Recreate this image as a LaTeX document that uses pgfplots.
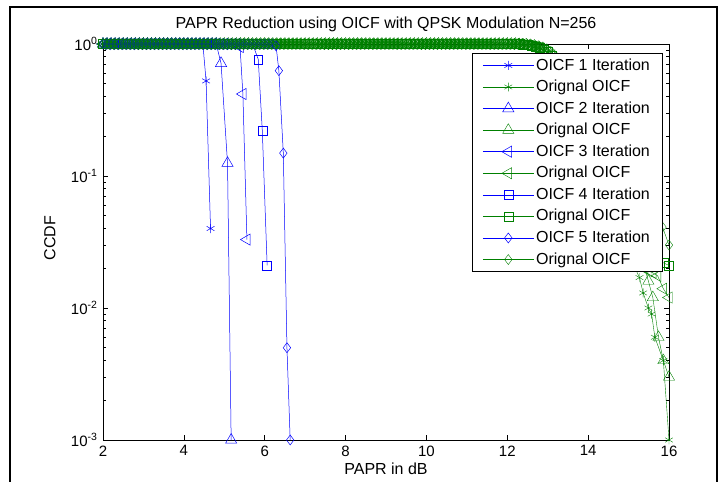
\documentclass[border=0pt]{standalone}
\usepackage{pgfplots}
\pgfplotsset{compat=1.18}
\usepackage{fontspec}
\setmainfont{Liberation Sans}
\definecolor{mblue}{RGB}{0,0,255}
\definecolor{mgreen}{RGB}{0,128,0}
\begin{document}
\fontsize{16bp}{19bp}\selectfont
\begin{tikzpicture}
\useasboundingbox (0bp,0bp) rectangle (727bp,482bp);
\draw[line width=1.2bp] (10bp,-2bp) -- (10bp,475bp) -- (717bp,475bp) -- (717bp,-2bp);
\begin{axis}[
  at={(103bp,42bp)}, anchor=south west,
  scale only axis, width=566bp, height=396bp,
  ymode=log, xmin=2, xmax=16, ymin=1e-3, ymax=1,
  clip=false,
  axis line style={line width=0.8pt},
  every tick/.style={black, line width=0.6pt},
  tick align=inside,
  major tick length=5bp, minor tick length=3bp,
  xtick={2,4,6,8,10,12,14,16},
  ytick={0.001,0.01,0.1,1},
  yticklabels={10\textsuperscript{-3},10\textsuperscript{-2},10\textsuperscript{-1},10\textsuperscript{0}},
  minor ytick={0.002,0.003,0.004,0.005,0.006,0.007,0.008,0.009,0.02,0.03,0.04,0.05,0.06,0.07,0.08,0.09,0.2,0.3,0.4,0.5,0.6,0.7,0.8,0.9},
  /pgf/number format/assume math mode=true,
  tick label style={font=\fontsize{15bp}{18bp}\selectfont},
  label style={font=\fontsize{16bp}{19bp}\selectfont},
  xlabel={PAPR in dB}, ylabel={CCDF},
  xlabel style={at={(axis description cs:0.5,-0.072)}, anchor=center},
  ylabel style={at={(axis description cs:-0.094,0.51)}, anchor=center},
  title={PAPR Reduction using OICF with QPSK Modulation N=256},
  title style={at={(axis description cs:0.5,1.034)}, anchor=center, font=\fontsize{16bp}{19bp}\selectfont},
  legend style={at={(0.988,0.977)}, anchor=north east, draw=black, line width=0.7pt, fill=white,
    font=\fontsize{16bp}{19bp}\selectfont, cells={anchor=west}, row sep=3.6pt, inner xsep=10bp, inner ysep=3bp},
  legend image code/.code={\draw[mark repeat=2,mark phase=2,#1] plot coordinates {(0bp,0bp) (25.5bp,0bp) (51bp,0bp)};},
]
% ---- OICF 1 iteration (blue, asterisk)
\addplot[mblue, line width=0.5pt, mark=asterisk, mark size=4.5pt, mark options={solid}] coordinates {
(2,1)(2.1,1)(2.2,1)(2.3,1)(2.4,1)(2.5,1)(2.6,1)(2.7,1)(2.8,1)(2.9,1)
(3,1)(3.1,1)(3.2,1)(3.3,1)(3.4,1)(3.5,1)(3.6,1)(3.7,1)(3.8,1)(3.9,1)
(4,1)(4.1,1)(4.2,1)(4.3,1)(4.4,1)(4.47,1)(4.55,0.525)(4.66,0.04)};
\addlegendentry{OICF 1 Iteration}
% ---- original (green, asterisk)
\addplot[mgreen, line width=0.4pt, mark=asterisk, mark size=4.5pt, mark options={solid}] coordinates {
(2,1)(2.1,1)(2.2,1)(2.3,1)(2.4,1)(2.5,1)(2.6,1)(2.7,1)(2.8,1)(2.9,1)
(3,1)(3.1,1)(3.2,1)(3.3,1)(3.4,1)(3.5,1)(3.6,1)(3.7,1)(3.8,1)(3.9,1)
(4,1)(4.1,1)(4.2,1)(4.3,1)(4.4,1)(4.5,1)(4.6,1)(4.7,1)(4.8,1)(4.9,1)
(5,1)(5.1,1)(5.2,1)(5.3,1)(5.4,1)(5.5,1)(5.6,1)(5.7,1)(5.8,1)(5.9,1)
(6,1)(6.1,1)(6.2,1)(6.3,1)(6.4,1)(6.5,1)(6.6,1)(6.7,1)(6.8,1)(6.9,1)
(7,1)(7.1,1)(7.2,1)(7.3,1)(7.4,1)(7.5,1)(7.6,1)(7.7,1)(7.8,1)(7.9,1)
(8,1)(8.1,1)(8.2,1)(8.3,1)(8.4,1)(8.5,1)(8.6,1)(8.7,1)(8.8,1)(8.9,1)
(9,1)(9.1,1)(9.2,1)(9.3,1)(9.4,1)(9.5,1)(9.6,1)(9.7,1)(9.8,1)(9.9,1)
(10,1)(10.1,1)(10.2,1)(10.3,1)(10.4,1)(10.5,1)(10.6,1)(10.7,1)(10.8,1)(10.9,1)
(11,1)(11.1,1)(11.2,1)(11.3,1)(11.4,1)(11.5,1)(11.6,1)(11.7,1)(11.8,1)(11.9,1)
(12,1)(12.1,1)(12.2,1)(12.3,1)
(12.4,0.99)(12.5,0.98)(12.6,0.97)(12.7,0.95)(12.8,0.93)(12.9,0.9)(13,0.86)(13.1,0.8)(13.2,0.72)(13.3,0.63)
(13.4,0.54)(13.5,0.45)(13.6,0.37)(13.7,0.3)(13.8,0.24)(13.9,0.19)(14,0.15)(14.1,0.12)(14.2,0.095)(14.3,0.077)
(14.4,0.063)(14.5,0.052)(14.6,0.044)(14.7,0.037)(14.8,0.032)(14.9,0.028)(15,0.025)(15.1,0.022)
(15.27,0.017)(15.36,0.013)(15.49,0.01)(15.57,0.009)(15.65,0.006)(15.86,0.004)(16,0.001)};
\addlegendentry{Orignal OICF}
% ---- OICF 2 iteration (blue, triangle)
\addplot[mblue, line width=0.5pt, mark=triangle, mark size=6.5pt, mark options={solid}] coordinates {
(2,1)(2.1,1)(2.2,1)(2.3,1)(2.4,1)(2.5,1)(2.6,1)(2.7,1)(2.8,1)(2.9,1)
(3,1)(3.1,1)(3.2,1)(3.3,1)(3.4,1)(3.5,1)(3.6,1)(3.7,1)(3.8,1)(3.9,1)
(4,1)(4.1,1)(4.2,1)(4.3,1)(4.4,1)(4.5,1)(4.6,1)(4.7,1)(4.8,1)
(4.92,0.714)(5.08,0.125)(5.17,0.001)};
\addlegendentry{OICF 2 Iteration}
\addplot[mgreen, line width=0.4pt, mark=triangle, mark size=6.5pt, mark options={solid}] coordinates {
(2,1)(2.1,1)(2.2,1)(2.3,1)(2.4,1)(2.5,1)(2.6,1)(2.7,1)(2.8,1)(2.9,1)
(3,1)(3.1,1)(3.2,1)(3.3,1)(3.4,1)(3.5,1)(3.6,1)(3.7,1)(3.8,1)(3.9,1)
(4,1)(4.1,1)(4.2,1)(4.3,1)(4.4,1)(4.5,1)(4.6,1)(4.7,1)(4.8,1)(4.9,1)
(5,1)(5.1,1)(5.2,1)(5.3,1)(5.4,1)(5.5,1)(5.6,1)(5.7,1)(5.8,1)(5.9,1)
(6,1)(6.1,1)(6.2,1)(6.3,1)(6.4,1)(6.5,1)(6.6,1)(6.7,1)(6.8,1)(6.9,1)
(7,1)(7.1,1)(7.2,1)(7.3,1)(7.4,1)(7.5,1)(7.6,1)(7.7,1)(7.8,1)(7.9,1)
(8,1)(8.1,1)(8.2,1)(8.3,1)(8.4,1)(8.5,1)(8.6,1)(8.7,1)(8.8,1)(8.9,1)
(9,1)(9.1,1)(9.2,1)(9.3,1)(9.4,1)(9.5,1)(9.6,1)(9.7,1)(9.8,1)(9.9,1)
(10,1)(10.1,1)(10.2,1)(10.3,1)(10.4,1)(10.5,1)(10.6,1)(10.7,1)(10.8,1)(10.9,1)
(11,1)(11.1,1)(11.2,1)(11.3,1)(11.4,1)(11.5,1)(11.6,1)(11.7,1)(11.8,1)(11.9,1)
(12,1)(12.1,1)(12.2,1)
(12.3,0.99)(12.4,0.98)(12.5,0.97)(12.6,0.96)(12.7,0.94)(12.8,0.92)(12.9,0.89)(13,0.85)(13.1,0.79)(13.2,0.71)
(13.3,0.62)(13.4,0.53)(13.5,0.44)(13.6,0.36)(13.7,0.29)(13.8,0.23)(13.9,0.18)(14,0.14)(14.1,0.11)(14.2,0.09)
(14.3,0.074)(14.4,0.061)(14.5,0.051)(14.6,0.043)(14.7,0.037)(14.8,0.032)(14.9,0.028)(15,0.025)(15.1,0.023)(15.2,0.022)
(15.3,0.021)(15.4,0.02)(15.49,0.016)(15.6,0.012)(15.74,0.006)(15.86,0.004)(16,0.003)};
\addlegendentry{Orignal OICF}
% ---- OICF 3 iteration (blue, left triangle)
\addplot[mblue, line width=0.5pt, mark=triangle, mark size=6.5pt, mark options={solid, rotate=90}] coordinates {
(2,1)(2.1,1)(2.2,1)(2.3,1)(2.4,1)(2.5,1)(2.6,1)(2.7,1)(2.8,1)(2.9,1)
(3,1)(3.1,1)(3.2,1)(3.3,1)(3.4,1)(3.5,1)(3.6,1)(3.7,1)(3.8,1)(3.9,1)
(4,1)(4.1,1)(4.2,1)(4.3,1)(4.4,1)(4.5,1)(4.6,1)(4.7,1)(4.8,1)(4.9,1)
(5,1)(5.1,1)(5.2,1)(5.3,1)(5.39,0.95)(5.46,0.418)(5.56,0.033)};
\addlegendentry{OICF 3 Iteration}
\addplot[mgreen, line width=0.4pt, mark=triangle, mark size=6.5pt, mark options={solid, rotate=90}] coordinates {
(2,1)(2.1,1)(2.2,1)(2.3,1)(2.4,1)(2.5,1)(2.6,1)(2.7,1)(2.8,1)(2.9,1)
(3,1)(3.1,1)(3.2,1)(3.3,1)(3.4,1)(3.5,1)(3.6,1)(3.7,1)(3.8,1)(3.9,1)
(4,1)(4.1,1)(4.2,1)(4.3,1)(4.4,1)(4.5,1)(4.6,1)(4.7,1)(4.8,1)(4.9,1)
(5,1)(5.1,1)(5.2,1)(5.3,1)(5.4,1)(5.5,1)(5.6,1)(5.7,1)(5.8,1)(5.9,1)
(6,1)(6.1,1)(6.2,1)(6.3,1)(6.4,1)(6.5,1)(6.6,1)(6.7,1)(6.8,1)(6.9,1)
(7,1)(7.1,1)(7.2,1)(7.3,1)(7.4,1)(7.5,1)(7.6,1)(7.7,1)(7.8,1)(7.9,1)
(8,1)(8.1,1)(8.2,1)(8.3,1)(8.4,1)(8.5,1)(8.6,1)(8.7,1)(8.8,1)(8.9,1)
(9,1)(9.1,1)(9.2,1)(9.3,1)(9.4,1)(9.5,1)(9.6,1)(9.7,1)(9.8,1)(9.9,1)
(10,1)(10.1,1)(10.2,1)(10.3,1)(10.4,1)(10.5,1)(10.6,1)(10.7,1)(10.8,1)(10.9,1)
(11,1)(11.1,1)(11.2,1)(11.3,1)(11.4,1)(11.5,1)(11.6,1)(11.7,1)(11.8,1)(11.9,1)
(12,1)(12.1,1)(12.2,1)(12.3,1)(12.4,1)
(12.5,0.99)(12.6,0.98)(12.7,0.96)(12.8,0.94)(12.9,0.91)(13,0.87)(13.1,0.82)(13.2,0.75)(13.3,0.67)(13.4,0.58)
(13.5,0.49)(13.6,0.41)(13.7,0.33)(13.8,0.27)(13.9,0.21)(14,0.17)(14.1,0.135)(14.2,0.108)(14.3,0.088)(14.4,0.072)
(14.5,0.06)(14.6,0.05)(14.7,0.043)(14.8,0.037)(14.9,0.032)(15,0.028)(15.1,0.025)(15.2,0.023)(15.3,0.021)(15.4,0.02)
(15.5,0.019)(15.6,0.0185)(15.72,0.0175)(15.86,0.014)(16,0.012)};
\addlegendentry{Orignal OICF}
% ---- OICF 4 iteration (blue, square)
\addplot[mblue, line width=0.5pt, mark=square, mark size=4.5pt, mark options={solid}] coordinates {
(2,1)(2.1,1)(2.2,1)(2.3,1)(2.4,1)(2.5,1)(2.6,1)(2.7,1)(2.8,1)(2.9,1)
(3,1)(3.1,1)(3.2,1)(3.3,1)(3.4,1)(3.5,1)(3.6,1)(3.7,1)(3.8,1)(3.9,1)
(4,1)(4.1,1)(4.2,1)(4.3,1)(4.4,1)(4.5,1)(4.6,1)(4.7,1)(4.8,1)(4.9,1)
(5,1)(5.1,1)(5.2,1)(5.3,1)(5.4,1)(5.5,1)(5.6,1)(5.7,1)
(5.84,0.766)(5.94,0.222)(6.06,0.021)};
\addlegendentry{OICF 4 Iteration}
\addplot[mgreen, line width=0.4pt, mark=square, mark size=4.5pt, mark options={solid}] coordinates {
(2,1)(2.1,1)(2.2,1)(2.3,1)(2.4,1)(2.5,1)(2.6,1)(2.7,1)(2.8,1)(2.9,1)
(3,1)(3.1,1)(3.2,1)(3.3,1)(3.4,1)(3.5,1)(3.6,1)(3.7,1)(3.8,1)(3.9,1)
(4,1)(4.1,1)(4.2,1)(4.3,1)(4.4,1)(4.5,1)(4.6,1)(4.7,1)(4.8,1)(4.9,1)
(5,1)(5.1,1)(5.2,1)(5.3,1)(5.4,1)(5.5,1)(5.6,1)(5.7,1)(5.8,1)(5.9,1)
(6,1)(6.1,1)(6.2,1)(6.3,1)(6.4,1)(6.5,1)(6.6,1)(6.7,1)(6.8,1)(6.9,1)
(7,1)(7.1,1)(7.2,1)(7.3,1)(7.4,1)(7.5,1)(7.6,1)(7.7,1)(7.8,1)(7.9,1)
(8,1)(8.1,1)(8.2,1)(8.3,1)(8.4,1)(8.5,1)(8.6,1)(8.7,1)(8.8,1)(8.9,1)
(9,1)(9.1,1)(9.2,1)(9.3,1)(9.4,1)(9.5,1)(9.6,1)(9.7,1)(9.8,1)(9.9,1)
(10,1)(10.1,1)(10.2,1)(10.3,1)(10.4,1)(10.5,1)(10.6,1)(10.7,1)(10.8,1)(10.9,1)
(11,1)(11.1,1)(11.2,1)(11.3,1)(11.4,1)(11.5,1)(11.6,1)(11.7,1)(11.8,1)(11.9,1)
(12,1)(12.1,1)(12.2,1)(12.3,1)
(12.4,0.99)(12.5,0.985)(12.6,0.975)(12.7,0.96)(12.8,0.94)(12.9,0.91)(13,0.87)(13.1,0.81)(13.2,0.74)(13.3,0.66)
(13.4,0.57)(13.5,0.48)(13.6,0.4)(13.7,0.33)(13.8,0.27)(13.9,0.22)(14,0.18)(14.1,0.145)(14.2,0.118)(14.3,0.097)
(14.4,0.08)(14.5,0.067)(14.6,0.057)(14.7,0.049)(14.8,0.043)(14.9,0.038)(15,0.034)(15.1,0.031)(15.2,0.029)(15.3,0.027)
(15.4,0.026)(15.5,0.025)(15.6,0.024)(15.72,0.023)(15.86,0.022)(16,0.021)};
\addlegendentry{Orignal OICF}
% ---- OICF 5 iteration (blue, diamond)
\addplot[mblue, line width=0.5pt, mark=diamond, mark size=5pt, mark options={solid}] coordinates {
(2,1)(2.1,1)(2.2,1)(2.3,1)(2.4,1)(2.5,1)(2.6,1)(2.7,1)(2.8,1)(2.9,1)
(3,1)(3.1,1)(3.2,1)(3.3,1)(3.4,1)(3.5,1)(3.6,1)(3.7,1)(3.8,1)(3.9,1)
(4,1)(4.1,1)(4.2,1)(4.3,1)(4.4,1)(4.5,1)(4.6,1)(4.7,1)(4.8,1)(4.9,1)
(5,1)(5.1,1)(5.2,1)(5.3,1)(5.4,1)(5.5,1)(5.6,1)(5.7,1)(5.8,1)(5.9,1)
(6,1)(6.1,1)(6.2,1)(6.28,0.97)(6.35,0.628)(6.46,0.149)(6.55,0.005)(6.63,0.001)};
\addlegendentry{OICF 5 Iteration}
\addplot[mgreen, line width=0.4pt, mark=diamond, mark size=5pt, mark options={solid}] coordinates {
(2,1)(2.1,1)(2.2,1)(2.3,1)(2.4,1)(2.5,1)(2.6,1)(2.7,1)(2.8,1)(2.9,1)
(3,1)(3.1,1)(3.2,1)(3.3,1)(3.4,1)(3.5,1)(3.6,1)(3.7,1)(3.8,1)(3.9,1)
(4,1)(4.1,1)(4.2,1)(4.3,1)(4.4,1)(4.5,1)(4.6,1)(4.7,1)(4.8,1)(4.9,1)
(5,1)(5.1,1)(5.2,1)(5.3,1)(5.4,1)(5.5,1)(5.6,1)(5.7,1)(5.8,1)(5.9,1)
(6,1)(6.1,1)(6.2,1)(6.3,1)(6.4,1)(6.5,1)(6.6,1)(6.7,1)(6.8,1)(6.9,1)
(7,1)(7.1,1)(7.2,1)(7.3,1)(7.4,1)(7.5,1)(7.6,1)(7.7,1)(7.8,1)(7.9,1)
(8,1)(8.1,1)(8.2,1)(8.3,1)(8.4,1)(8.5,1)(8.6,1)(8.7,1)(8.8,1)(8.9,1)
(9,1)(9.1,1)(9.2,1)(9.3,1)(9.4,1)(9.5,1)(9.6,1)(9.7,1)(9.8,1)(9.9,1)
(10,1)(10.1,1)(10.2,1)(10.3,1)(10.4,1)(10.5,1)(10.6,1)(10.7,1)(10.8,1)(10.9,1)
(11,1)(11.1,1)(11.2,1)(11.3,1)(11.4,1)(11.5,1)(11.6,1)(11.7,1)(11.8,1)(11.9,1)
(12,1)(12.1,1)(12.2,1)(12.3,1)(12.4,1)
(12.5,0.99)(12.6,0.985)(12.7,0.975)(12.8,0.96)(12.9,0.94)(13,0.91)(13.1,0.87)(13.2,0.81)(13.3,0.74)(13.4,0.66)
(13.5,0.57)(13.6,0.48)(13.7,0.4)(13.8,0.33)(13.9,0.27)(14,0.22)(14.1,0.18)(14.2,0.15)(14.3,0.125)(14.4,0.105)
(14.5,0.09)(14.6,0.078)(14.7,0.068)(14.8,0.06)(14.9,0.054)(15,0.05)(15.1,0.047)(15.2,0.045)(15.3,0.044)(15.4,0.043)
(15.5,0.042)(15.6,0.042)(15.72,0.041)(15.84,0.041)(16,0.03)};
\addlegendentry{Orignal OICF}
\end{axis}
\end{tikzpicture}
\end{document}
